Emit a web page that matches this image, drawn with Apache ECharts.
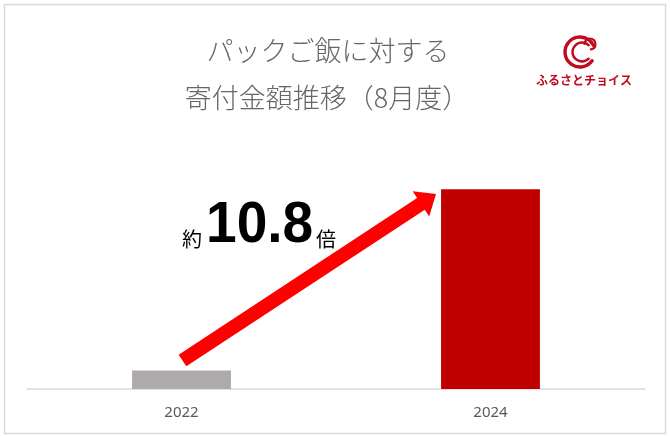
<!DOCTYPE html>
<html>
<head>
<meta charset="utf-8">
<script src="https://cdn.jsdelivr.net/npm/echarts@6/dist/echarts.min.js"></script>
<style>
html,body{margin:0;padding:0;background:#fff;}
#main{width:670px;height:436px;}
</style>
</head>
<body>
<div id="main"></div>
<script>
const categories = ['2022', '2024'];
const values = [1, 10.8];
const barColors = ['#AEAAAA', '#C00000'];
const titleLines = ['パックご飯に対する', '寄付金額推移（8月度）'];
const ratioText = ['約', '10.8', '倍'];
const logoText = 'ふるさとチョイス';

const chart = echarts.init(document.getElementById('main'), null, {renderer: 'canvas'});

// arrow geometry (annotation)
function arrowPoints(tx, ty, hx, hy, shaftHalf, headLen, headHalf) {
  const dx = hx - tx, dy = hy - ty;
  const len = Math.sqrt(dx * dx + dy * dy);
  const ux = dx / len, uy = dy / len;
  const nx = -uy, ny = ux;
  const bx = hx - ux * headLen, by = hy - uy * headLen;
  return [
    [tx - nx * shaftHalf, ty - ny * shaftHalf],
    [bx - nx * shaftHalf, by - ny * shaftHalf],
    [bx - nx * headHalf, by - ny * headHalf],
    [hx, hy],
    [bx + nx * headHalf, by + ny * headHalf],
    [bx + nx * shaftHalf, by + ny * shaftHalf],
    [tx + nx * shaftHalf, ty + ny * shaftHalf]
  ];
}

const logoRed = '#C00A1E';

const option = {
  backgroundColor: '#ffffff',
  animation: false,
  grid: {left: 27, right: 25, top: 167, bottom: 47},
  xAxis: {
    type: 'category',
    data: categories,
    axisLine: {lineStyle: {color: '#D9D9D9', width: 1.5}},
    axisTick: {show: false},
    axisLabel: {color: '#595959', fontSize: 15, fontFamily: 'Noto Sans', margin: 16}
  },
  yAxis: {
    type: 'value',
    min: 0,
    max: 12,
    show: false,
    splitLine: {show: false}
  },
  series: [{
    type: 'bar',
    barWidth: '32%',
    data: values.map((v, i) => ({value: v, itemStyle: {color: barColors[i]}})),
    silent: true
  }],
  graphic: [
    {
      type: 'rect', z: -1,
      shape: {x: 4.5, y: 4.5, width: 661, height: 429},
      style: {fill: 'none', stroke: '#D9D9D9', lineWidth: 1.5}
    },
    {
      type: 'text', x: 328, y: 51,
      style: {text: titleLines[0], fontSize: 27, fill: '#666666', align: 'center', verticalAlign: 'middle',
        fontFamily: '"Noto Sans CJK JP"', fontWeight: 300}
    },
    {
      type: 'text', x: 327, y: 98,
      style: {text: titleLines[1], fontSize: 27, fill: '#666666', align: 'center', verticalAlign: 'middle',
        fontFamily: '"Noto Sans CJK JP"', fontWeight: 300}
    },
    {
      type: 'polygon', z: 10,
      shape: {points: arrowPoints(182.5, 360.5, 436, 194, 7, 18, 15)},
      style: {fill: '#FF0000'}
    },
    {
      type: 'text', z: 11, x: 182, y: 249,
      style: {text: ratioText[0], fontSize: 20, fill: '#000', fontFamily: '"Noto Sans CJK JP"',
        align: 'left', verticalAlign: 'bottom'}
    },
    {
      type: 'text', z: 11, x: 206, y: 255, scaleX: 0.95,
      style: {text: ratioText[1], fontSize: 58, fontWeight: 'bold', fill: '#000', fontFamily: 'Liberation Sans',
        align: 'left', verticalAlign: 'bottom', lineHeight: 58}
    },
    {
      type: 'text', z: 11, x: 316, y: 249,
      style: {text: ratioText[2], fontSize: 20, fill: '#000', fontFamily: '"Noto Sans CJK JP"',
        align: 'left', verticalAlign: 'bottom'}
    },
    // logo
    {
      type: 'arc', z: 10,
      shape: {cx: 580, cy: 52, r: 15, startAngle: Math.PI * 0.2, endAngle: Math.PI * 1.85, clockwise: true},
      style: {stroke: logoRed, lineWidth: 3.4, fill: 'none', lineCap: 'round'}
    },
    {
      type: 'arc', z: 10,
      shape: {cx: 582, cy: 52, r: 9.5, startAngle: Math.PI * 0.25, endAngle: Math.PI * 1.75, clockwise: true},
      style: {stroke: logoRed, lineWidth: 2.4, fill: 'none', lineCap: 'round'}
    },
    {
      type: 'arc', z: 10,
      shape: {cx: 590, cy: 44, r: 5.5, startAngle: Math.PI * 1.0, endAngle: Math.PI * 0.45, clockwise: true},
      style: {stroke: logoRed, lineWidth: 2.2, fill: 'none', lineCap: 'round'}
    },
    {
      type: 'text', x: 584, y: 80, z: 10,
      style: {text: logoText, fontSize: 12, fontWeight: 'bold', fill: logoRed,
        fontFamily: '"Noto Sans CJK JP"', align: 'center', verticalAlign: 'middle', letterSpacing: -1.2}
    }
  ]
};
chart.setOption(option);
</script>
</body>
</html>
